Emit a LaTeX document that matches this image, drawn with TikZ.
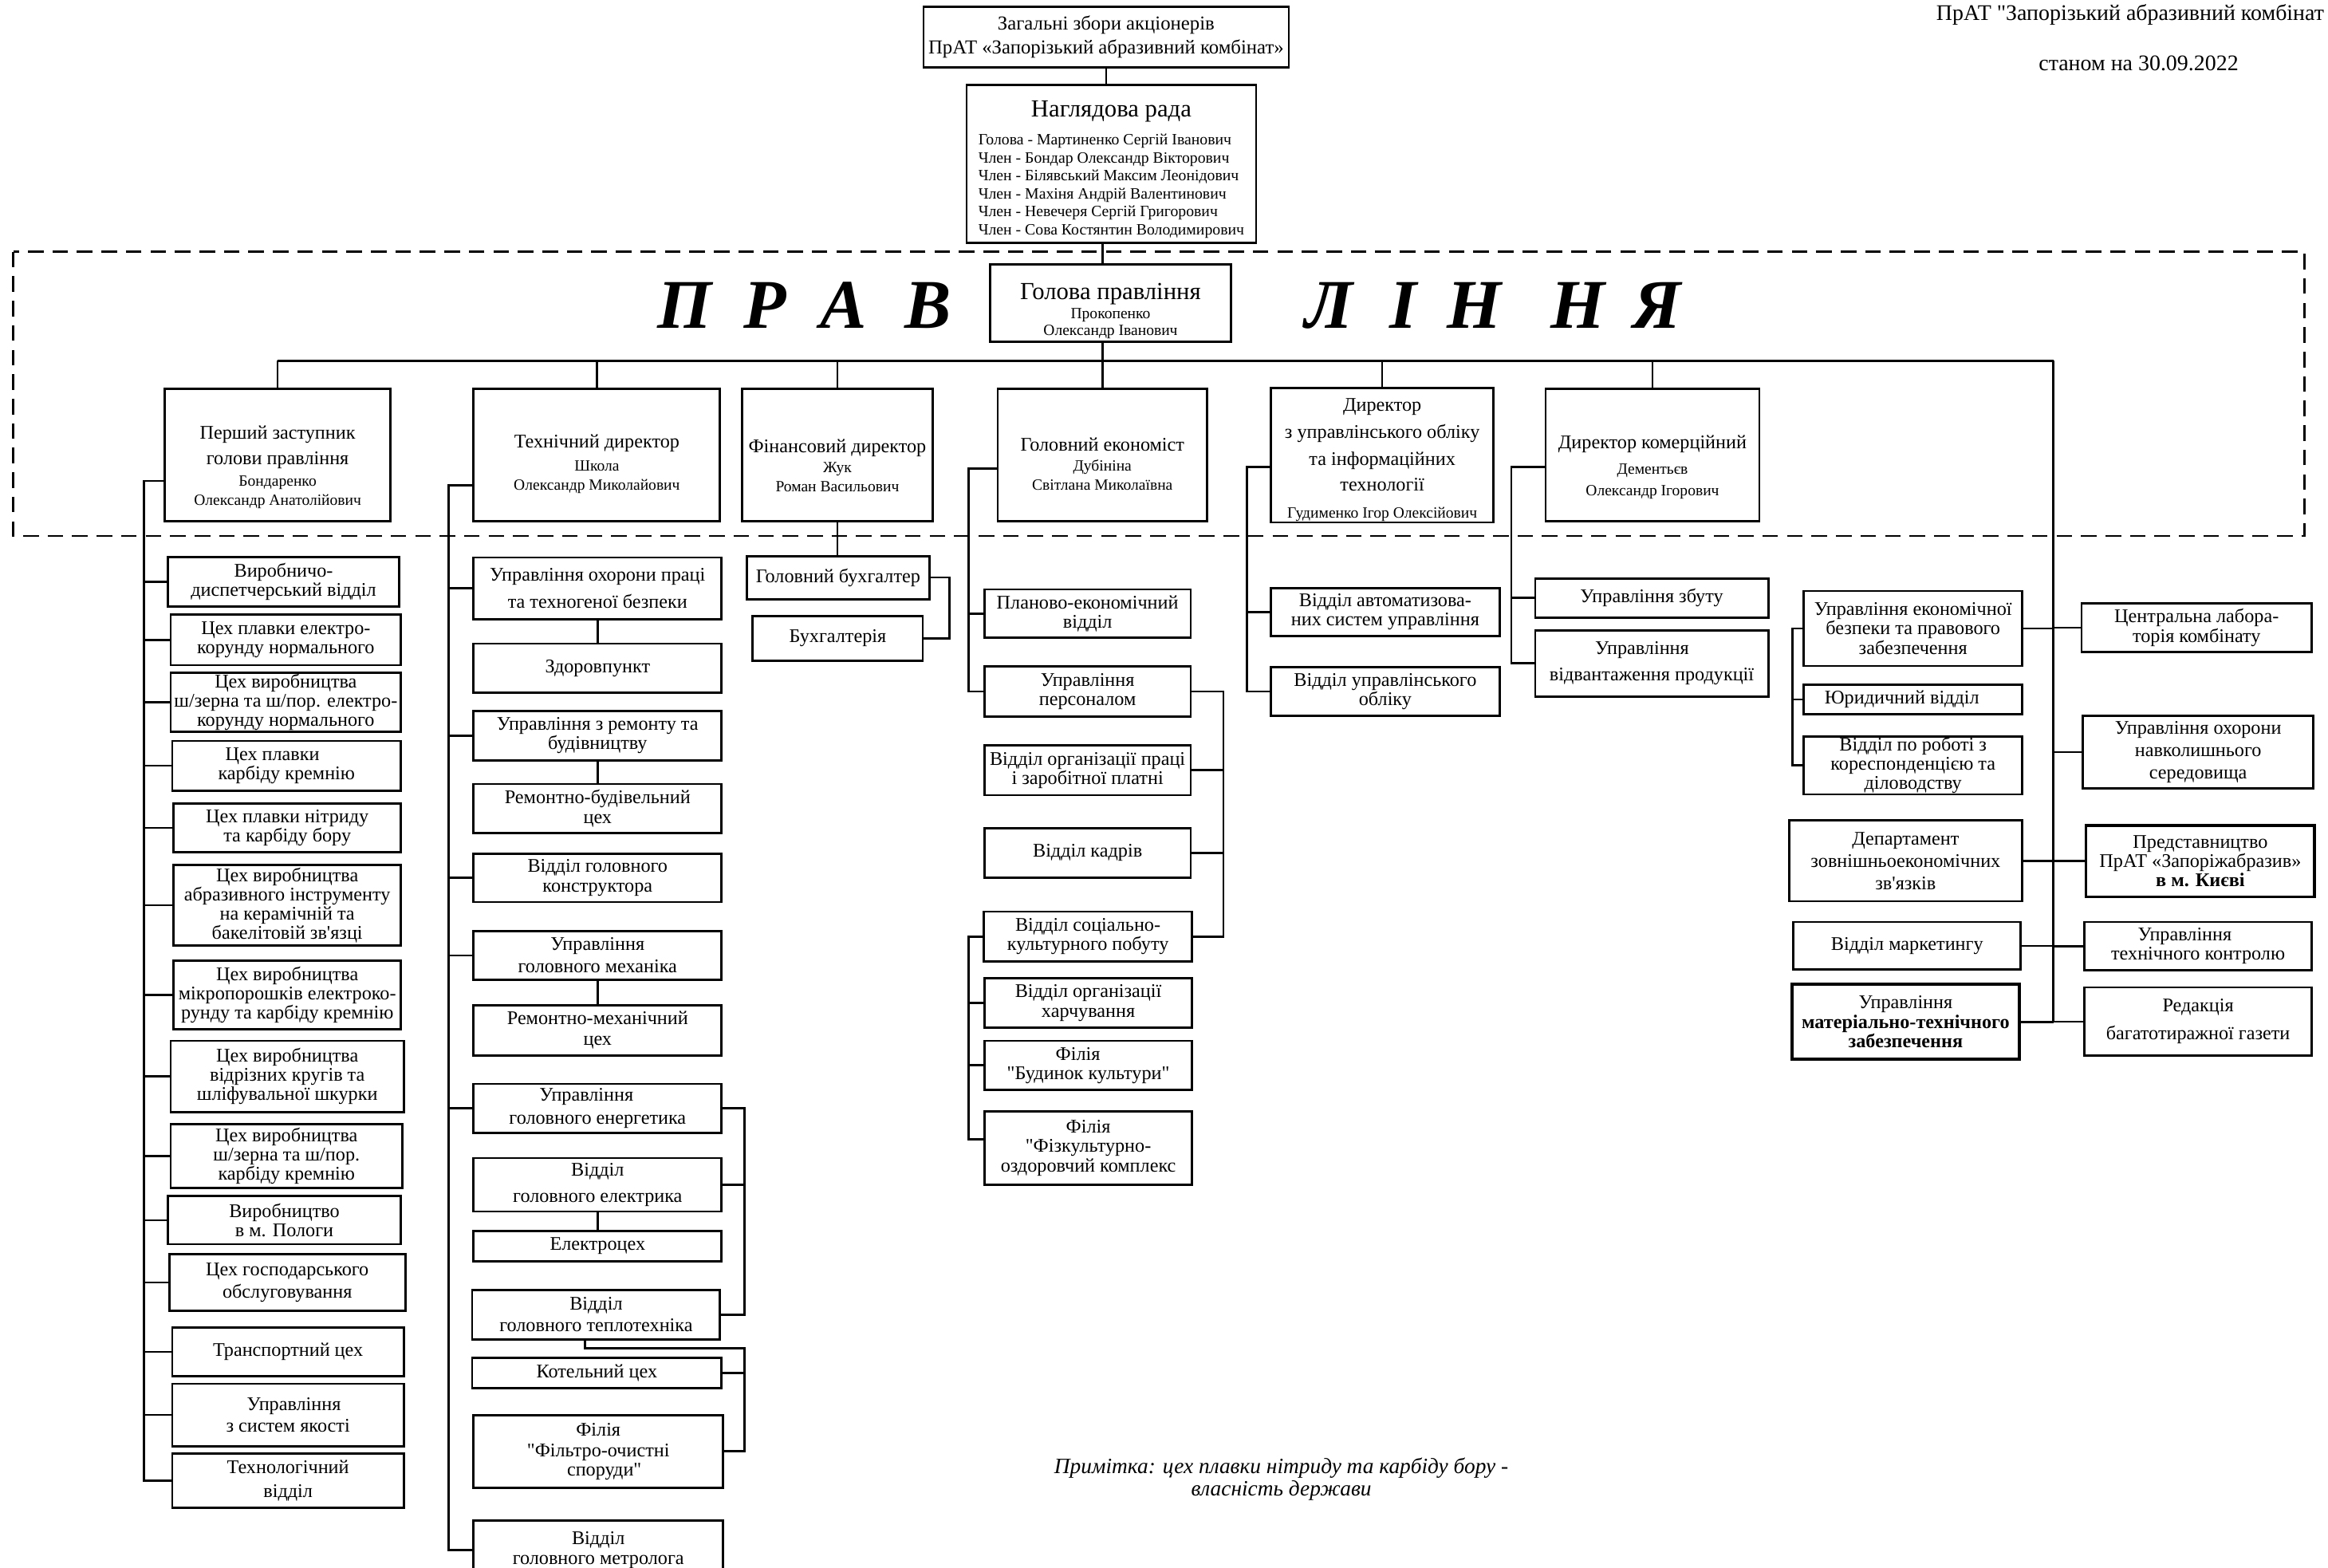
\documentclass[tikz,border=0pt]{standalone}
\usepackage{fontspec}
\setmainfont{Liberation Serif}
\newfontfamily\lsf{Liberation Serif}
\usetikzlibrary{calc}
\newcommand\fT{\fontsize{13}{15}\selectfont}
\newcommand\tp[1]{\rule{0pt}{#1}}
\newcommand\bx[7][]{\node[box,minimum width={(#5-#3)*1pt},minimum height={(#6-#4)*1pt},#1] (#2) at ({(#3+#5)/2},{(#4+#6)/2}) {#7};}
\begin{document}
\begin{tikzpicture}[x=1pt,y=-1pt,
  box/.style={draw,rectangle,line width=1.5pt,inner sep=0.5pt,align=center,font=\lsf\fontsize{13}{13}\selectfont},
  dir/.style={font=\lsf\fontsize{10.5}{11.5}\selectfont},
  heavy/.style={line width=2pt},
  conn/.style={line width=1.4pt},
  bigl/.style={font=\lsf\fontsize{47}{50}\selectfont\bfseries\itshape,anchor=base,inner sep=0pt}]
\useasboundingbox (0,0) rectangle (1568,1055.6);

% ---------- header ----------
\node[font=\lsf\fontsize{15}{16}\selectfont,anchor=base west,inner sep=0pt] (ttl) at (1304,13.5) {ПрАТ "Запорізький абразивний комбінат};
\node[font=\lsf\fontsize{15}{16}\selectfont,anchor=base west,inner sep=0pt] (dat) at (1373,47.5) {станом на 30.09.2022};

\bx[font=\lsf\fontsize{13.3}{16}\selectfont]{gz}{622}{4.5}{868}{45.5}{Загальні збори акціонерів\\ПрАТ «Запорізький абразивний комбінат»}
\bx[font=\lsf\fontsize{10.6}{12.1}\selectfont]{nr}{651}{57}{846}{163.5}{{\fontsize{16.5}{18}\selectfont\tp{20pt}Наглядова рада}\\[6pt]\begin{tabular}{@{}l@{}}Голова - Мартиненко Сергій Іванович\\Член - Бондар Олександр Вікторович\\Член - Білявський Максим Леонідович\\Член - Махіня Андрій Валентинович\\Член - Невечеря Сергій Григорович\\Член - Сова Костянтин Володимирович\end{tabular}}

% ---------- board frame ----------
\draw[conn,dash pattern=on 10.5pt off 6pt] (9,169.6) rectangle (1552,361);
\bx[font=\lsf\fontsize{10.5}{11}\selectfont]{gp}{667}{178}{829}{230}{{\fontsize{16.5}{18}\selectfont\tp{21.5pt}Голова правління}\\[2pt]Прокопенко\\Олександр Іванович}
\foreach \l/\x [count=\i] in {П/461,Р/515,А/568,В/625,Л/895,І/945,Н/993,Н/1063,Я/1116}
  \node[bigl] (L\i) at (\x,221) {\l};

% ---------- directors ----------
\bx[dir]{fz}{111}{262}{263}{351}{{\fT\tp{25pt}Перший заступник}\\[5.5pt]{\fT голови правління}\\[3pt]Бондаренко\\[1.5pt]Олександр Анатолійович}
\bx[dir]{td}{319}{262}{485}{351}{{\fT\tp{21pt}Технічний директор}\\[4pt]Школа\\[1.5pt]Олександр Миколайович}
\bx[dir]{fd}{500}{262}{628}{351}{{\fT\tp{23pt}Фінансовий директор}\\[2pt]Жук\\[1.5pt]Роман Васильович}
\bx[dir]{ge}{672}{262}{813}{351}{{\fT\tp{21pt}Головний економіст}\\[2pt]Дубініна\\[1.5pt]Світлана Миколаївна}
\bx[dir]{dz}{856}{262}{1006}{351}{{\fT\tp{15pt}Директор}\\[5.5pt]{\fT з управлінського обліку}\\[5.5pt]{\fT та інформаційних}\\[5.5pt]{\fT технології}\\[7pt]Гудименко Ігор Олексійович}
\bx[dir]{dk}{1041}{262}{1185}{351}{{\fT\tp{25pt}Директор комерційний}\\[6pt]Дементьєв\\[3pt]Олександр Ігорович}

% ---------- first deputy column ----------
\bx{c1}{113}{375}{269}{408.5}{Виробничо-\\диспетчерський відділ}
\bx{c2}{115}{414}{270}{448}{Цех плавки електро-\\корунду нормального}
\bx{c3}{115}{453}{270}{493}{Цех виробництва\\ш/зерна та ш/пор. електро-\\корунду нормального}
\bx{c4}{116}{499}{270}{532.5}{Цех плавки\hspace*{19pt}\\карбіду кремнію}
\bx{c5}{117}{541}{270}{574}{Цех плавки нітриду\\та карбіду бору}
\bx{c6}{117}{582.5}{270}{637}{Цех виробництва\\абразивного інструменту\\на керамічній та\\бакелітовій зв'язці}
\bx{c7}{117}{647}{270}{693}{Цех виробництва\\мікропорошків електроко-\\рунду та карбіду кремнію}
\bx{c8}{115}{701}{272}{749}{Цех виробництва\\відрізних кругів та\\шліфувальної шкурки}
\bx{c9}{115}{757}{271}{800}{Цех виробництва\\ш/зерна та ш/пор.\\карбіду кремнію}
\bx{c10}{113}{805.5}{270}{838}{Виробництво\\в м. Пологи}
\bx{c11}{114}{844.5}{273}{883}{Цех господарського\\[2pt]обслуговування}
\bx{c12}{116}{894}{272}{927}{Транспортний цех}
\bx{c13}{116}{932}{272}{974}{\hspace*{8pt}Управління\\[2pt]з систем якості}
\bx{c14}{116}{979}{272}{1015.5}{Технологічний\\[3pt]відділ}

% ---------- technical column ----------
\bx{uop}{319}{375.5}{486}{417}{Управління охорони праці\\[5pt]та техногеної безпеки}
\bx{zdr}{319}{433.5}{486}{466.5}{Здоровпункт}
\bx{urb}{319}{479}{486}{512}{Управління з ремонту та\\будівництву}
\bx{rbc}{319}{528}{486}{561}{Ремонтно-будівельний\\цех}
\bx{vgk}{319}{575}{486}{607.5}{Відділ головного\\конструктора}
\bx{ugm}{319}{627}{486}{660}{Управління\\[2pt]головного механіка}
\bx{rmc}{319}{677}{486}{711}{Ремонтно-механічний\\[1pt]цех}
\bx{uge}{319}{730}{486}{763}{Управління\hspace*{15pt}\\[2.5pt]головного енергетика}
\bx{vge}{319}{780}{486}{816}{Відділ\\[4.5pt]головного електрика}
\bx{elc}{319}{829}{486}{849.5}{Електроцех}
\bx{vgt}{318}{869}{485}{902}{Відділ\\[1.5pt]головного теплотехніка}
\bx{kc}{318}{914.5}{486}{935}{Котельний цех}
\bx{ffo}{319}{953}{487}{1002}{Філія\\[1pt]"Фільтро-очистні\\\hspace*{8pt}споруди"}
\bx{vgm}{319}{1024}{487}{1064}{Відділ\\головного метролога}

% ---------- finance ----------
\bx{gb}{503}{374.5}{626}{403.5}{Головний бухгалтер}
\bx{bukh}{507}{415}{621.5}{445}{Бухгалтерія}

% ---------- economist ----------
\bx{pe}{663}{397}{802}{429.5}{Планово-економічний\\відділ}
\bx{up}{663}{449}{802}{482.5}{Управління\\персоналом}
\bx{opz}{663}{502}{802}{535.5}{Відділ організації праці\\і заробітної платні}
\bx{vk}{663}{558}{802}{591}{Відділ кадрів}
\bx{vsk}{662.5}{614}{803}{647.5}{Відділ соціально-\\культурного побуту}
\bx{voh}{663}{659}{803}{692}{Відділ організації\\харчування}
\bx{fbk}{663}{701}{803}{734}{Філія\hspace*{14pt}\\"Будинок культури"}
\bx{ffk}{663}{748.5}{803}{798}{Філія\\"Фізкультурно-\\оздоровчий комплекс}

% ---------- accounting / IT ----------
\bx{vas}{856}{396}{1010}{428.5}{Відділ автоматизова-\\них систем управління}
\bx{vuo}{856}{449.5}{1010}{482}{Відділ управлінського\\обліку}

% ---------- commercial ----------
\bx{uz}{1034}{389.5}{1191}{416}{Управління збуту}
\bx{uvp}{1034}{424.5}{1191}{469}{Управління\hspace*{13pt}\\[5pt]відвантаження продукції}

% ---------- right group ----------
\bx{ueb}{1215}{398}{1362}{448.5}{Управління економічної\\безпеки та правового\\забезпечення}
\bx{jur}{1215}{461}{1362}{481}{Юридичний відділ\hspace*{15pt}}
\bx{dil}{1215}{496}{1362}{535}{Відділ по роботі з\\кореспонденцією та\\діловодству}
\bx{dze}{1205}{552.5}{1362}{607}{Департамент\\[2pt]зовнішньоекономічних\\[2pt]зв'язків}
\bx{vm}{1208}{621}{1361}{653}{Відділ маркетингу}
\bx[heavy]{umtz}{1207}{663}{1360}{713.5}{Управління\\{\bfseries матеріально-технічного}\\{\bfseries забезпечення}}
\bx{cl}{1402}{406.5}{1557}{439}{Центральна лабора-\\торія комбінату}
\bx{uon}{1403}{482}{1558}{531}{Управління охорони\\[2pt]навколишнього\\[2pt]середовища}
\bx[heavy]{pred}{1405}{556}{1559}{604}{Представництво\\ПрАТ «Запоріжабразив»\\{\bfseries в м. Києві}}
\bx{utk}{1404}{621}{1557}{653.5}{Управління\hspace*{18pt}\\технічного контролю}
\bx{red}{1404}{665}{1557}{711}{Редакція\\[6pt]багатотиражної газети}

% ---------- note ----------
\node[font=\lsf\fontsize{14.7}{15}\selectfont\itshape,align=center] (note) at (863,996) {Примітка: цех плавки нітриду та карбіду бору -\\власність держави};

% ---------- connectors ----------
\coordinate (busL) at (187,243);
\coordinate (busR) at (1383,243);
\draw[conn] (gz.south) -- (gz.south |- nr.north);
\draw[conn] (ge.north |- nr.south) -- (ge.north |- gp.north);
\draw[conn] (ge.north |- gp.south) -- (ge.north);
\draw[conn] (busL) -- (busR);
\foreach \d in {fz,td,fd,dz,dk} \draw[conn] (\d.north) -- (\d.north |- busL);
\draw[conn] (busR) -- (busR |- umtz.east);
\foreach \r in {ueb,dze,vm,umtz} \draw[conn] (\r.east) -- (\r.east -| busR);
\foreach \r in {cl,uon,pred,utk,red} \draw[conn] (\r.west) -- (\r.west -| busR);
\coordinate (ebk) at (1207.4,423);
\draw[conn] (ueb.west) -- (ueb.west -| ebk) |- (dil.west);
\draw[conn] (ebk |- jur.west) -- (jur.west);

% first deputy
\coordinate (fzs) at (97,324);
\draw[conn] (fzs -| fz.west) -- (fzs) |- (c14.west);
\foreach \c in {c1,c2,c3,c4,c5,c6,c7,c8,c9,c10,c11,c12,c13} \draw[conn] (fzs |- \c.west) -- (\c.west);

% technical
\coordinate (tds) at (302,327);
\draw[conn] (tds -| td.west) -- (tds) |- (vgm.west);
\foreach \c in {uop,urb,vgk,ugm,uge} \draw[conn] (tds |- \c.west) -- (\c.west);
\draw[conn] (uop.south) -- (zdr.north);
\draw[conn] (urb.south) -- (rbc.north);
\draw[conn] (ugm.south) -- (rmc.north);
\draw[conn] (vge.south) -- (elc.north);
\coordinate (enb) at (501.5,746.5);
\draw[conn] (uge.east) -- (uge.east -| enb) |- (vgt.east);
\draw[conn] (vge.east) -- (vge.east -| enb);
\coordinate (tpd) at (394,908);
\coordinate (tpr) at (501.5,908);
\draw[conn] (tpd |- vgt.south) -- (tpd) -- (tpr) |- (ffo.east);
\draw[conn] (tpr |- kc.east) -- (kc.east);

% finance
\draw[conn] (fd.south) -- (fd.south |- gb.north);
\coordinate (gbb) at (639.5,389);
\draw[conn] (gb.east) -- (gb.east -| gbb) |- (bukh.east);

% economist
\coordinate (ges) at (652.3,315.5);
\draw[conn] (ges -| ge.west) -- (ges) |- (up.west);
\draw[conn] (ges |- pe.west) -- (pe.west);
\coordinate (upb) at (824,466);
\draw[conn] (up.east) -- (up.east -| upb) |- (vsk.east);
\draw[conn] (upb |- opz.east) -- (opz.east);
\draw[conn] (upb |- vk.east) -- (vk.east);
\coordinate (vsb) at (652.5,631);
\draw[conn] (vsk.west) -- (vsk.west -| vsb) |- ([yshift=6pt]ffk.west);
\draw[conn] (vsb |- voh.west) -- (voh.west);
\draw[conn] (vsb |- fbk.west) -- (fbk.west);

% accounting / IT
\coordinate (dzs) at (840,314.5);
\draw[conn] (dzs -| dz.west) -- (dzs) |- (vuo.west);
\draw[conn] (dzs |- vas.west) -- (vas.west);

% commercial
\coordinate (dks) at (1018,314.5);
\draw[conn] (dks -| dk.west) -- (dks) |- (uvp.west);
\draw[conn] (dks |- uz.west) -- (uz.west);
\end{tikzpicture}
\end{document}
